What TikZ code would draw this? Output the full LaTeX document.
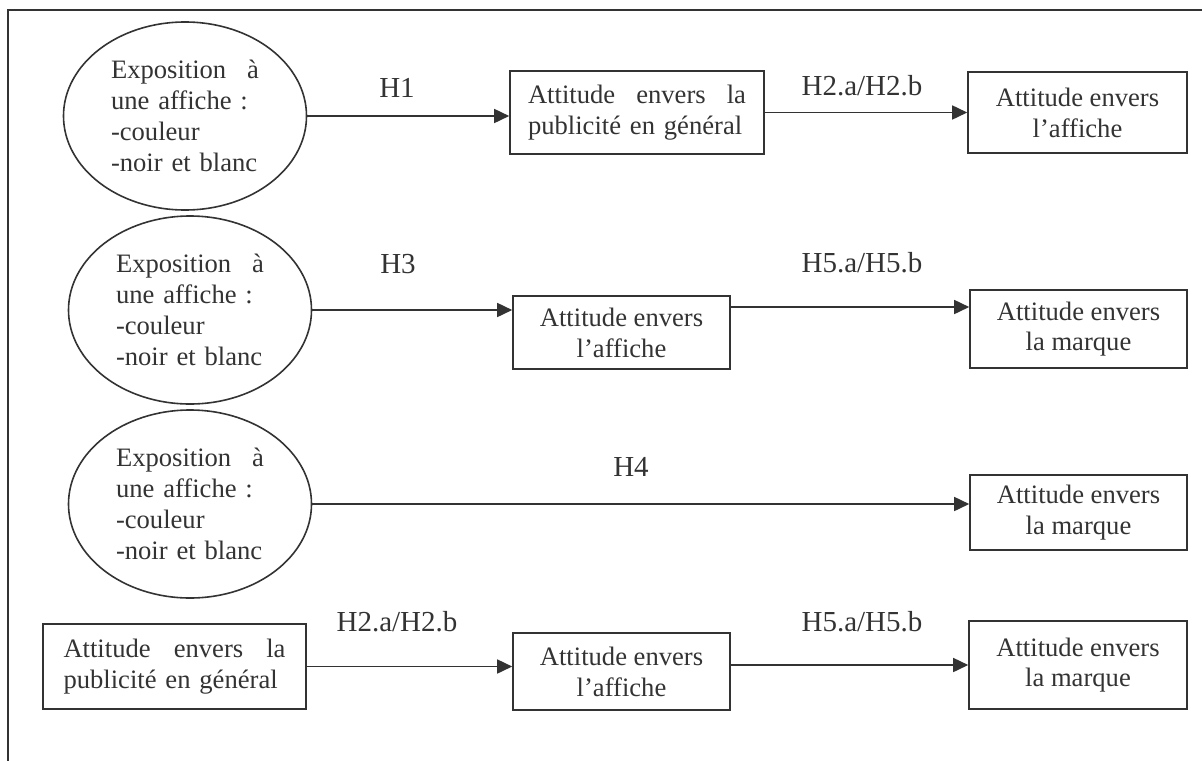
\documentclass[tikz,border=0pt]{standalone}
\usepackage{fontspec}
\setmainfont{Liberation Serif}
\usetikzlibrary{shapes.geometric,arrows.meta}

\definecolor{ink}{HTML}{333333}

\tikzset{
  expo/.style={ellipse, draw=ink, line width=0.8pt, text=ink, inner sep=0pt,
    minimum width=121.5pt, minimum height=94pt, text width=74pt, align=left,
    font=\fontsize{13.3pt}{15.4pt}\selectfont},
  attbox/.style={draw=ink, line width=0.8pt, text=ink, inner sep=0pt, align=center,
    font=\fontsize{13.3pt}{15.4pt}\selectfont},
  hyp/.style={text=ink, font=\fontsize{14.5pt}{17pt}\selectfont},
  arr/.style={draw=ink, line width=0.8pt, -{Triangle[length=7.5pt,width=7pt]}},
}

\begin{document}
\begin{tikzpicture}[x=0.5pt,y=-0.5pt]

        \useasboundingbox (0,0) rectangle (1202,760);
        \clip (0,0) rectangle (1202,760);

        % Frame
        \draw[ink, line width=1pt] (8,790) -- (8,10) -- (1230,10);

        % Row 1
        \node[expo] (e1) at (185,116) {Exposition\hfill à\\une affiche :\\-couleur\\-noir et blanc};
        \node[attbox, minimum width=127pt, minimum height=41.5pt, text width=109pt, align=left]
            (pub1) at (637,112.5) {Attitude\hfill envers\hfill la\\publicité en général};
        \node[attbox, minimum width=109.5pt, minimum height=40.5pt] (aff1) at (1077.5,112.5) {Attitude envers\\l’affiche};

        \node[hyp] (h1) at (397,88) {H1};
        \node[hyp] (h2r1) at (862,86) {H2.a/H2.b};

        % Row 2
        \node[expo] (e2) at (190,310) {Exposition\hfill à\\une affiche :\\-couleur\\-noir et blanc};
        \node[attbox, minimum width=108.5pt, minimum height=36.5pt] (aff2) at (621.5,332.5) {Attitude envers\\l’affiche};
        \node[attbox, minimum width=108.5pt, minimum height=39pt] (mar2) at (1078.5,329) {Attitude envers\\la marque};

        \node[hyp] (h3) at (398,264) {H3};
        \node[hyp] (h5r2) at (862,263) {H5.a/H5.b};

        % Row 3
        \node[expo] (e3) at (190,504) {Exposition\hfill à\\une affiche :\\-couleur\\-noir et blanc};
        \node[attbox, minimum width=108.5pt, minimum height=37.5pt] (mar3) at (1078.5,512.5) {Attitude envers\\la marque};

        \node[hyp] (h4) at (631,467) {H4};

        % Row 4
        \node[attbox, minimum width=131.5pt, minimum height=42.5pt, text width=111pt, align=left]
            (pub4) at (174.5,666.5) {Attitude\hfill envers\hfill la\\publicité en général};
        \node[attbox, minimum width=108.5pt, minimum height=38.5pt] (aff4) at (621.5,671.5) {Attitude envers\\l’affiche};
        \node[attbox, minimum width=109pt, minimum height=44pt] (mar4) at (1078,665) {Attitude envers\\la marque};

        \node[hyp] (h2r4) at (397,622) {H2.a/H2.b};
        \node[hyp] (h5r4) at (862,622) {H5.a/H5.b};

        % Arrows
        \draw[arr] (e1.east) -- (e1.east -| pub1.west);
        \draw[arr] (pub1) -- (aff1);
        \draw[arr] (e2.east) -- (e2.east -| aff2.west);
        \draw[arr] ([yshift=1.5pt]e2.east -| aff2.east) -- ([yshift=1.5pt]e2.east -| mar2.west);
        \draw[arr] (e3.east) -- (e3.east -| mar3.west);
        \draw[arr] (pub4.east) -- (pub4.east -| aff4.west);
        \draw[arr] (mar4.west -| aff4.east) -- (mar4.west);

\end{tikzpicture}
\end{document}
